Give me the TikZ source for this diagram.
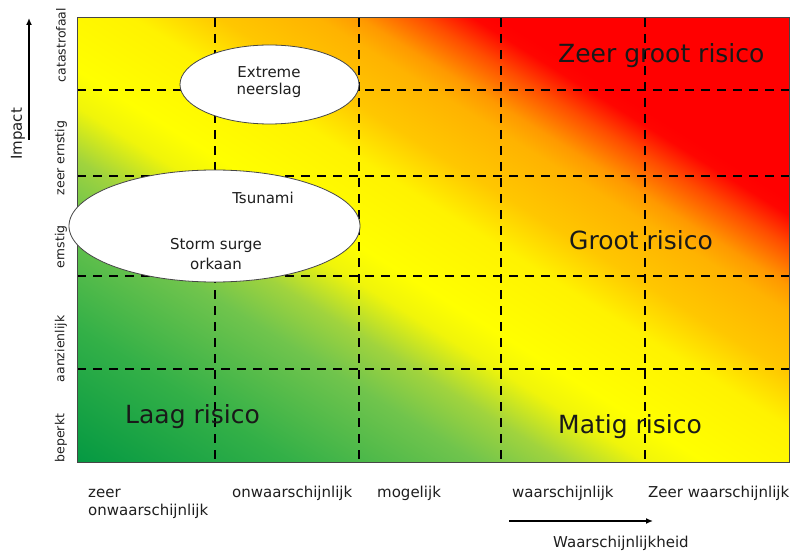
\documentclass[tikz,border=0pt]{standalone}
\usepackage{fontspec}
\setmainfont{DejaVu Sans}
\usetikzlibrary{shapes.geometric,arrows.meta}
\definecolor{txtgray}{RGB}{30,30,30}
\definecolor{frame}{RGB}{70,70,70}
\pgfdeclarehorizontalshading{riskshade}{100bp}{%
 rgb(0bp)=(0.02,0.60,0.26);
 rgb(14.6bp)=(0.02,0.60,0.26);
 rgb(25.2bp)=(0.20,0.69,0.28);
 rgb(34.4bp)=(0.44,0.77,0.30);
 rgb(38.7bp)=(0.63,0.83,0.24);
 rgb(42.9bp)=(0.94,0.96,0.04);
 rgb(45.8bp)=(1,1,0);
 rgb(52.8bp)=(1,0.95,0);
 rgb(57.1bp)=(1,0.78,0);
 rgb(62.0bp)=(1,0.70,0);
 rgb(64.1bp)=(1,0.60,0);
 rgb(67.3bp)=(1,0.30,0);
 rgb(69.8bp)=(1,0.02,0);
 rgb(71.0bp)=(1,0,0);
 rgb(100bp)=(1,0,0)}
\begin{document}
\begin{tikzpicture}[x=1bp,y=-1bp,
  griddash/.style={line width=1.8bp, dash pattern=on 9bp off 7bp, black},
  riskell/.style={ellipse, draw=frame, line width=0.8bp, fill=white, inner sep=0},
  lbl/.style={font=\fontsize{15bp}{18bp}\selectfont, text=txtgray, inner sep=0},
  ylbl/.style={font=\fontsize{12.5bp}{15bp}\selectfont, text=txtgray, inner sep=0, rotate=90},
  big/.style={font=\fontsize{25bp}{30bp}\selectfont, text=black!90, inner sep=0, anchor=base west},
  axarrow/.style={line width=1.5bp, black, -{Latex[length=7bp,width=6bp]}}]
\useasboundingbox (0,0) rectangle (793,554);
% gradient background: a 45-degree shading in a unit square, stretched onto the plot area
\begin{scope}[transform canvas={cm={7.12,0,0,4.44,(77,462)}}]
  \shade[shading=riskshade, shading angle=45] (0pt,0pt) rectangle (100bp,100bp);
\end{scope}
% grid
\foreach \gx in {215,359,501,645} \draw[griddash] (\gx,18) -- (\gx,462);
\foreach \gy in {90,176,276,369} \draw[griddash] (77,\gy) -- (789,\gy);
\draw[frame, line width=1bp] (77,18) rectangle (789,462);
% ellipses
\node[riskell, minimum width=179bp, minimum height=79bp] (eneer) at (269.5,84.5) {};
\node[riskell, minimum width=291bp, minimum height=112bp] (estorm) at (214.5,226) {};
\node[lbl] (textreme) at (269,72) {Extreme};
\node[lbl] (tneer) at (269,90) {neerslag};
\node[lbl] (ttsun) at (263,198) {Tsunami};
\node[lbl] (tstorm) at (216,245) {Storm surge};
\node[lbl] (torkaan) at (216,264) {orkaan};
% risk labels
\node[big] (rzeer) at (558,63) {Zeer groot risico};
\node[big] (rgroot) at (569,250) {Groot risico};
\node[big] (rlaag) at (125,423) {Laag risico};
\node[big] (rmatig) at (558,433) {Matig risico};
% y tick labels
\node[ylbl] (ycat) at (61,45) {catastrofaal};
\node[ylbl] (yzeer) at (61,158) {zeer ernstig};
\node[ylbl] (yern) at (61,247) {ernstig};
\node[ylbl] (yaanz) at (61,349) {aanzienlijk};
\node[ylbl] (ybep) at (61,438) {beperkt};
% x tick labels
\node[lbl, anchor=base west] (xzeer) at (88,497) {zeer};
\node[lbl, anchor=base west] (xzeer2) at (88,515) {onwaarschijnlijk};
\node[lbl, anchor=base west] (xonw) at (232,497) {onwaarschijnlijk};
\node[lbl, anchor=base west] (xmog) at (377,497) {mogelijk};
\node[lbl, anchor=base west] (xwaar) at (512,497) {waarschijnlijk};
\node[lbl, anchor=base west] (xzw) at (648,497) {Zeer waarschijnlijk};
% axis titles and arrows
\node[lbl, rotate=90] (timpact) at (18,134) {Impact};
\node[lbl, anchor=base west] (twaar) at (553,547) {Waarschijnlijkheid};
\coordinate (ia) at (29,140);
\coordinate (ib) at (29,18);
\coordinate (wa) at (509,521);
\coordinate (wb) at (653,521);
\draw[axarrow] (ia) -- (ib);
\draw[axarrow] (wa) -- (wb);
\end{tikzpicture}
\end{document}
